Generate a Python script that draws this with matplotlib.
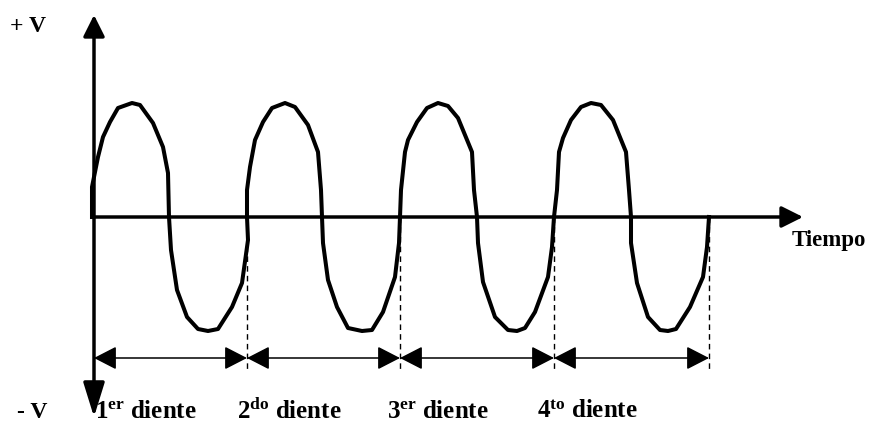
import matplotlib
matplotlib.use("Agg")
import matplotlib.pyplot as plt

# Señal: tiempo (t) y tensión (v), en unidades arbitrarias
tiempo = [-2, -2, 4, 9, 16, 24, 38, 46, 59, 69, 74, 75,
          77, 83, 93, 104, 114, 124, 138, 148, 154, 153,
          153, 156, 161, 169, 178, 191, 201, 214, 224, 227, 228,
          229, 234, 243, 254, 268, 278, 289, 301, 305, 306,
          307, 311, 314, 323, 333, 344, 354, 364, 378, 380, 383,
          384, 389, 401, 414, 423, 431, 441, 454, 458, 460,
          463, 465, 469, 477, 487, 497, 507, 519, 532, 535, 537,
          537, 543, 554, 566, 574, 582, 596, 609, 613, 615]
tension = [0, 30, 60, 80, 95, 109, 114, 112, 94, 70, 44, 0,
           -33, -73, -100, -112, -114, -112, -90, -66, -23, 0,
           27, 50, 77, 95, 109, 114, 110, 92, 65, 27, 0,
           -26, -63, -90, -111, -114, -113, -95, -60, -26, 0,
           27, 65, 77, 95, 109, 114, 111, 99, 65, 27, 0,
           -26, -65, -100, -113, -114, -111, -95, -60, -30, 0,
           27, 65, 79, 97, 110, 114, 112, 97, 65, 27, 0,
           -26, -66, -100, -113, -114, -112, -90, -60, -30, 0]

# Inicio/fin de cada diente sobre el eje del tiempo
dientes = [0, 153, 306, 460, 615]
etiquetas = ["$1^{\\mathrm{er}}$ diente", "$2^{\\mathrm{do}}$ diente",
             "$3^{\\mathrm{er}}$ diente", "$4^{\\mathrm{to}}$ diente"]
x_etiq = [1, 143, 293, 443]

plt.rcParams.update({"font.family": "Liberation Serif", "font.weight": "bold",
                     "mathtext.fontset": "custom", "mathtext.rm": "Liberation Serif:bold",
                     "mathtext.it": "Liberation Serif:bold", "mathtext.bf": "Liberation Serif:bold"})

fig = plt.figure(figsize=(8.71, 4.22), dpi=100)
ax = fig.add_axes([0, 0, 1, 1])
ax.set_xlim(-94, 777); ax.set_ylim(-205, 217); ax.axis("off")

def flecha(p0, p1, estilo, lw):
    ax.annotate("", xy=p1, xytext=p0, arrowprops=dict(arrowstyle=estilo, lw=lw, color="k",
                shrinkA=0, shrinkB=0, mutation_scale=10))

# ejes
flecha((0, 0), (0, 202), "-|>,head_length=1.3,head_width=0.65", 2.5)
flecha((0, 0), (0, -200), "-|>,head_length=2.1,head_width=0.65", 2.5)
flecha((0, 0), (709, 0), "-|>,head_length=1.3,head_width=0.65", 2.5)

# señal
ax.plot(tiempo, tension, color="k", lw=2.9, solid_joinstyle="round", zorder=3)

# cotas de cada diente
y_cota = -141
for a, b in zip(dientes[:-1], dientes[1:]):
    flecha((a, y_cota), (b, y_cota), "<|-|>,head_length=1.4,head_width=0.72", 1.1)
for d in dientes[1:]:
    ax.plot([d, d], [0, -155], color="k", lw=1, ls=(0, (4, 3)))

for x, txt in zip(x_etiq, etiquetas):
    ax.text(x, -201, txt, fontsize=18, va="baseline", ha="left")
ax.text(-84, 185, "+ V", fontsize=17, va="baseline")
ax.text(-77, -201, "- V", fontsize=17, va="baseline")
ax.text(698, -29, "Tiempo", fontsize=16.5, va="baseline")

fig.savefig("out.png", dpi=100)
